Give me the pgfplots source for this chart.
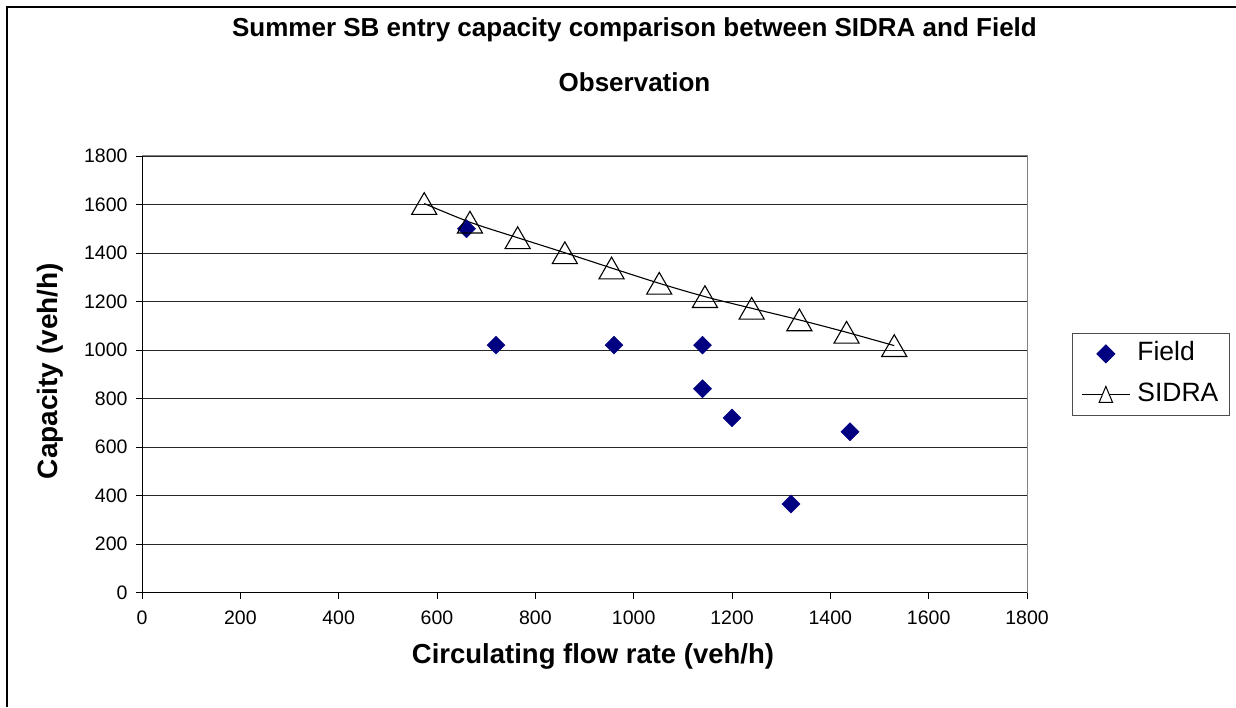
\documentclass[border=0pt]{standalone}
\usepackage{pgfplots}
\pgfplotsset{compat=1.18}
\usepackage{fontspec}
\setmainfont{Liberation Sans}
\definecolor{navy}{RGB}{0,0,128}
\begin{document}
\begin{tikzpicture}[x=1pt,y=1pt]
\path[use as bounding box] (0,0) rectangle (1236,707);
\draw[line width=1.4pt] (7,0) -- (7,700) -- (1236,700);
\node[font=\bfseries\fontsize{26}{26}\selectfont] at (634.5,677) {Summer SB entry capacity comparison between SIDRA and Field};
\node[font=\bfseries\fontsize{26}{26}\selectfont] at (634.5,625) {Observation};
\node[font=\bfseries\fontsize{27.5}{27.5}\selectfont] at (593,51) {Circulating flow rate (veh/h)};
\node[font=\bfseries\fontsize{28}{28}\selectfont, rotate=90] at (50,336) {Capacity (veh/h)};
\begin{axis}[
  at={(142pt,114.5pt)}, anchor=south west,
  width=885pt, height=436.5pt, scale only axis,
  xmin=0, xmax=1800, ymin=0, ymax=1800,
  xtick={0,200,...,1800}, ytick={0,200,...,1800},
  axis x line=bottom, axis y line=left,
  axis line style={-, black, line width=1pt},
  tick align=outside, major tick length=6pt,
  tick style={black, line width=0.8pt},
  ymajorgrids, grid style={black!85, line width=0.9pt},
  scaled ticks=false,
  /pgf/number format/1000 sep={},
  /pgf/number format/assume math mode=true,
  ticklabel style={font=\fontsize{19.5}{19.5}\selectfont},
  xticklabel style={yshift=-9pt},
  yticklabel style={xshift=-5pt},
  clip=false,
  legend cell align=left,
  legend style={at={(1.0508,0.5945)}, anchor=north west, draw=black!70, line width=0.8pt,
    font=\fontsize{26.5}{26.5}\selectfont, inner xsep=9pt, inner ysep=7pt, row sep=14pt,
    nodes={text height=18pt, text depth=5pt, inner sep=2pt}},
]
\draw[black!50, line width=1pt] (rel axis cs:0,1) -- (rel axis cs:1,1) -- (rel axis cs:1,0);
\addplot[only marks, mark=square*, mark size=6.4pt, mark options={rotate=45, fill=navy, draw=navy},
  legend image code/.code={\draw[navy, fill=navy] (24pt,0pt) ++(0,9pt) -- ++(-9pt,-9pt) -- ++(9pt,-9pt) -- ++(9pt,9pt) -- cycle;}]
  coordinates {(660,1500) (720,1020) (960,1020) (1140,1020) (1140,840) (1200,720) (1320,365) (1440,663)};
\addlegendentry{\hspace{5pt}Field}
\addplot[black, line width=1.1pt, smooth, mark=triangle, mark size=14.5pt,
  mark options={fill=white, line width=1.1pt, yshift=-3.6pt},
  legend image code/.code={\draw[black, line width=1pt] (0pt,0pt) -- (48pt,0pt);
    \draw[black, line width=1pt, fill=white] (24pt,8.5pt) -- (17.3pt,-7.5pt) -- (30.7pt,-7.5pt) -- cycle;}]
  coordinates {(574,1604) (667,1527) (764,1463) (860,1401) (955,1338) (1052,1275) (1145,1220) (1240,1172) (1337,1124) (1433,1073) (1530,1018)};
\addlegendentry{\hspace{5pt}SIDRA}
\end{axis}
\end{tikzpicture}
\end{document}
